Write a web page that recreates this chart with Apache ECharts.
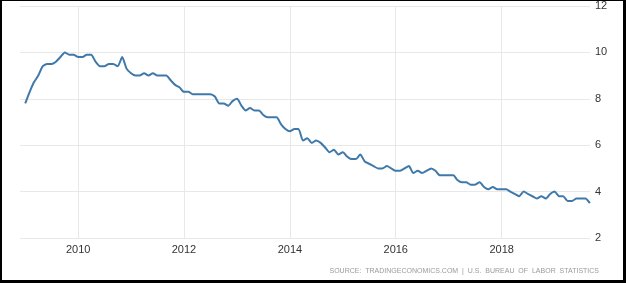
<!DOCTYPE html>
<html>
<head>
<meta charset="utf-8">
<script src="https://cdn.jsdelivr.net/npm/echarts@6/dist/echarts.min.js"></script>
<style>
html,body{margin:0;padding:0;background:#fff;}
#frame{width:626px;height:283px;box-sizing:border-box;border-style:solid;border-color:#000;border-width:1px 3px 3px 2px;background:#fff;position:relative;overflow:hidden;}
#chart{position:absolute;left:-2px;top:-1px;width:626px;height:283px;}
</style>
</head>
<body>
<div id="frame"><div id="chart"></div></div>
<script>
// Monthly unemployment rate (%), January to December of each year
const startYear = 2009;
const rate2009 = [7.8, 8.3, 8.7, 9.0, 9.4, 9.5, 9.5, 9.6, 9.8, 10.0, 9.9, 9.9];
const rate2010 = [9.8, 9.8, 9.9, 9.9, 9.6, 9.4, 9.4, 9.5, 9.5, 9.4, 9.8, 9.3];
const rate2011 = [9.1, 9.0, 9.0, 9.1, 9.0, 9.1, 9.0, 9.0, 9.0, 8.8, 8.6, 8.5];
const rate2012 = [8.3, 8.3, 8.2, 8.2, 8.2, 8.2, 8.2, 8.1, 7.8, 7.8, 7.7, 7.9];
const rate2013 = [8.0, 7.7, 7.5, 7.6, 7.5, 7.5, 7.3, 7.2, 7.2, 7.2, 6.9, 6.7];
const rate2014 = [6.6, 6.7, 6.7, 6.2, 6.3, 6.1, 6.2, 6.1, 5.9, 5.7, 5.8, 5.6];
const rate2015 = [5.7, 5.5, 5.4, 5.4, 5.6, 5.3, 5.2, 5.1, 5.0, 5.0, 5.1, 5.0];
const rate2016 = [4.9, 4.9, 5.0, 5.1, 4.8, 4.9, 4.8, 4.9, 5.0, 4.9, 4.7, 4.7];
const rate2017 = [4.7, 4.7, 4.5, 4.4, 4.4, 4.3, 4.3, 4.4, 4.2, 4.1, 4.2, 4.1];
const rate2018 = [4.1, 4.1, 4.0, 3.9, 3.8, 4.0, 3.9, 3.8, 3.7, 3.8, 3.7, 3.9];
const rate2019 = [4.0, 3.8, 3.8, 3.6, 3.6, 3.7, 3.7, 3.7, 3.5];
const yearlyRates = [rate2009, rate2010, rate2011, rate2012, rate2013, rate2014,
                     rate2015, rate2016, rate2017, rate2018, rate2019];
const yTicks = [2, 4, 6, 8, 10, 12];
const xStart = '2008-11-26';
const xEnd = '2019-09-02';
const sourceText = 'SOURCE:  TRADINGECONOMICS.COM  |  U.S.  BUREAU  OF  LABOR  STATISTICS';

const seriesData = [];
yearlyRates.forEach((arr, yi) => {
  arr.forEach((v, m) => {
    seriesData.push([Date.UTC(startYear + yi, m, 1), v]);
  });
});

const grid = '#e8e8e8';
const none = 'rgba(0,0,0,0)';
const chart = echarts.init(document.getElementById('chart'), null, {renderer: 'canvas'});
const twoYears = 2 * 365.25 * 24 * 3600 * 1000;
chart.setOption({
  animation: false,
  backgroundColor: 'transparent',
  grid: {left: 20, right: 36, top: 6, bottom: 45},
  title: {
    text: sourceText,
    right: 22, bottom: 3,
    textStyle: {fontFamily: 'Liberation Sans', fontSize: 7, fontWeight: 'normal', color: '#9a9a9a'}
  },
  xAxis: {
    type: 'time',
    min: Date.parse(xStart),
    max: Date.parse(xEnd),
    minInterval: twoYears,
    maxInterval: twoYears,
    axisLine: {show: false},
    axisTick: {show: false},
    splitLine: {show: true,
      lineStyle: {color: [none, grid, grid, grid, grid, grid, none], width: 1}},
    axisLabel: {
      color: '#333', fontFamily: 'Liberation Sans', fontSize: 11, margin: 6,
      formatter: v => String(new Date(v).getUTCFullYear()),
      showMinLabel: false, showMaxLabel: false
    }
  },
  yAxis: {
    type: 'value',
    position: 'right',
    min: yTicks[0], max: yTicks[yTicks.length - 1], interval: 2,
    axisLine: {show: false},
    axisTick: {show: false},
    splitLine: {lineStyle: {color: grid, width: 1}},
    axisLabel: {color: '#333', fontFamily: 'Liberation Sans', fontSize: 11, margin: 5}
  },
  series: [{
    type: 'line',
    data: seriesData,
    showSymbol: false,
    symbol: 'none',
    lineStyle: {color: '#3f79aa', width: 2},
    smooth: 0.2
  }]
});
</script>
</body>
</html>
